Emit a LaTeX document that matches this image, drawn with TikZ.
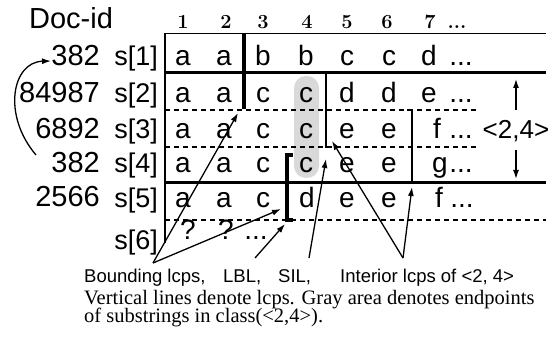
\documentclass[tikz,border=0pt]{standalone}
\usepackage{fontspec}
\newfontfamily\sansf{Liberation Sans}
\newfontfamily\seriff{Liberation Serif}
\usetikzlibrary{arrows.meta}
\newcommand\tdots{...}
\tikzset{
  cell/.style={inner sep=0pt,anchor=base,font=\sansf\fontsize{28}{30}\selectfont},
  docid/.style={inner sep=0pt,anchor=base east,font=\sansf\fontsize{29}{30}\selectfont},
  slab/.style={inner sep=0pt,anchor=base east,font=\sansf\fontsize{27}{30}\selectfont},
  hdr/.style={inner sep=0pt,anchor=base,font=\bfseries\fontsize{20}{22}\selectfont},
  lab/.style={inner sep=0pt,anchor=base west,font=\sansf\fontsize{18.5}{20}\selectfont},
  capt/.style={inner sep=0pt,anchor=base west,font=\seriff\fontsize{20.5}{22}\selectfont},
  lnthin/.style={line width=1.5pt},
  lnthick/.style={line width=3.2pt},
  dashln/.style={line width=1.2pt,dash pattern=on 5pt off 4pt},
  arr/.style={line width=1.3pt,-{Latex[length=9pt,width=6pt]}},
}
\begin{document}
\begin{tikzpicture}[x=1pt,y=-1pt]
\useasboundingbox (0,0) rectangle (549,339);
% gray area
\fill[gray!30,rounded corners=12pt] (294,76) rectangle (319,178);
% header
\node[inner sep=0pt,anchor=base,font=\sansf\fontsize{29}{30}\selectfont] (docidhdr) at (71,29) {Doc-id};
\foreach \x/\t [count=\i] in {183/1,226/2,263/3,307/4,347/5,387/6,430/7,457/\tdots}
  \node[hdr,name=h\i] at (\x,29) {\t};
% doc ids and s labels
\foreach \t/\y [count=\i] in {382/66,84987/103,6892/139,382/173,2566/207}
  \node[docid,name=d\i] at (100,\y) {\t};
\foreach \y [count=\i] in {66,103,139,173,208}
  \node[slab,name=s\i] at (158,\y) {s[\i]};
\node[slab] (s6) at (158,250) {s[6]};
% row letters
\foreach \x/\t [count=\i] in {183/a,224/a,263/b,306/b,347/c,389/c,429/d,461/\tdots}
  \node[cell,name=ra\i] at (\x,66) {\t};
\foreach \x/\t [count=\i] in {183/a,224/a,263/c,306/c,347/d,389/d,429/e,461/\tdots}
  \node[cell,name=rb\i] at (\x,103) {\t};
\foreach \x/\t [count=\i] in {183/a,224/a,263/c,306/c,347/e,389/e,437/f,461/\tdots}
  \node[cell,name=rc\i] at (\x,139) {\t};
\foreach \x/\t [count=\i] in {183/a,224/a,263/c,306/c,347/e,389/e,440/g,461/\tdots}
  \node[cell,name=rd\i] at (\x,173) {\t};
\foreach \x/\t [count=\i] in {183/a,224/a,263/c,307/d,347/e,389/e,439/f,462/\tdots}
  \node[cell,name=re\i] at (\x,208) {\t};
\foreach \x/\t [count=\i] in {188/?,226/?,256/\tdots}
  \node[cell,name=rf\i] at (\x,240) {\t};
% table lines
\draw[lnthin] (165,33.5) -- (546,33.5);
\draw[lnthick] (165,72.5) -- (546,72.5);
\draw[lnthick] (165,182.5) -- (546,182.5);
\draw[dashln] (165,110) -- (478,110);
\draw[dashln] (165,147) -- (478,147);
\draw[dashln] (165,220) -- (546,220);
\draw[lnthin] (165,33) -- (165,243);
\draw[lnthick] (244,33) -- (244,109);
\draw[lnthick] (292.5,155) -- (287,155) -- (287,220) -- (292.5,220);
\draw[lnthin] (326,73) -- (326,147) -- (331,147);
\draw[lnthin] (407,110) -- (412,110) -- (412,182);
% labels
\node[lab] (lbound) at (84,283) {Bounding lcps,};
\node[lab] (llbl) at (223,283) {LBL,};
\node[lab] (lsil) at (278,283) {SIL,};
\node[lab] (lint) at (340,283) {Interior lcps of <2, 4>};
\node[capt] (cap1) at (84,304) {Vertical lines denote lcps. Gray area denotes endpoints};
\node[capt] (cap2) at (84,322.5) {of substrings in class(<2,4>).};
\node[cell,font=\sansf\fontsize{26}{28}\selectfont] (cls) at (516,139) {<2,4>};
% connector coordinates
\coordinate (bsrc) at (153,263);
\coordinate (bt1) at (238,113);
\coordinate (bt2) at (281,209);
\coordinate (lsrc) at (255,258);
\coordinate (ltip) at (285,224);
\coordinate (ssrc) at (309,258);
\coordinate (stip) at (326,159);
\coordinate (isrc) at (403,258);
\coordinate (it1) at (332,141);
\coordinate (it2) at (412,187);
\coordinate (cu0) at (516,110);
\coordinate (cu1) at (516,79);
\coordinate (cd0) at (516,150);
\coordinate (cd1) at (516,179);
\coordinate (loop0) at (36,155);
\coordinate (loop1) at (51,61);
% arrows
\draw[arr] (bsrc) -- (bt1);
\draw[arr] (bsrc) -- (bt2);
\draw[arr] (lsrc) -- (ltip);
\draw[arr] (ssrc) -- (stip);
\draw[arr] (isrc) -- (it1);
\draw[arr] (isrc) -- (it2);
\draw[arr] (cu0) -- (cu1);
\draw[arr] (cd0) -- (cd1);
\draw[arr] (loop0) .. controls (2,115) and (12,62) .. (loop1);
\end{tikzpicture}
\end{document}
